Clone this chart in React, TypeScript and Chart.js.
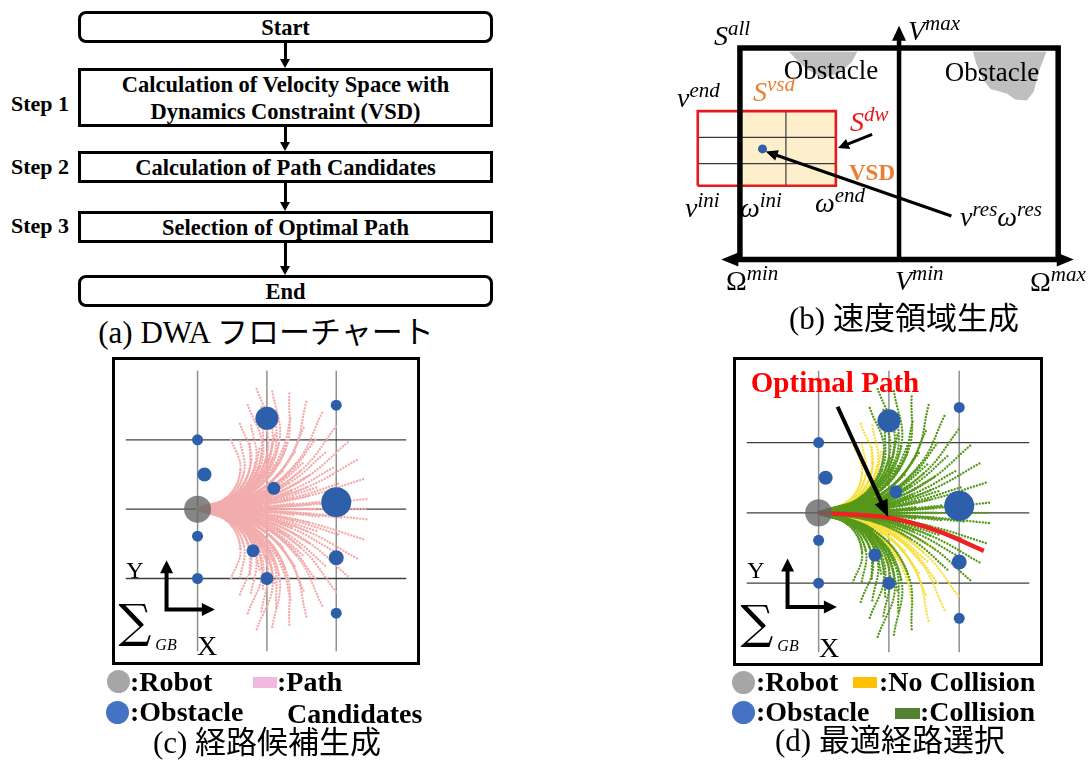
import React, { useEffect, useRef } from 'react';
import { Chart, registerables } from 'chart.js';
Chart.register(...registerables);

// ================= DATA =================
// (b) velocity space (x: omega, y: v; S_all spans omega -1..1, v 0..1)
const omegaAxis = [[-1.117, 0], [1.098, 0]];
const vAxis = [[0, 0], [0, 1.105]];
const sAllFrame = [[-1, 0], [-1, 1], [1, 1], [1, 0]];
const vsdArea = [[-1, 0.349], [-1, 0.702], [-0.397, 0.702], [-0.397, 0.349], [-1, 0.349]];
const dwBox = [[-1.265, 0.349], [-1.265, 0.702], [-0.397, 0.702], [-0.397, 0.349], [-1.265, 0.349]];
const dwGridV = [0.578, 0.454];
const dwGridW = [-0.711];
const resultPoint = [-0.858, 0.523];
const resultArrow = [[0.329, 0.206], [-0.838, 0.511]];
const dwArrow = [[-0.169, 0.592], [-0.384, 0.527]];
const obstacleShapeA = [[-0.692, 0.982], [-0.262, 0.982], [-0.3, 0.93], [-0.38, 0.88], [-0.48, 0.86], [-0.58, 0.9], [-0.65, 0.95], [-0.692, 0.982]];
const obstacleShapeB = [[0.465, 0.982], [0.926, 0.982], [0.883, 0.899], [0.846, 0.794], [0.803, 0.752], [0.729, 0.757], [0.68, 0.784], [0.575, 0.807], [0.526, 0.853], [0.483, 0.931], [0.465, 0.982]];

// (c)/(d) global frame (grid unit = 1)
const gridX = [0, 1, 2];
const gridY = [1, 0, -1];
const robotPos = [0, 0];
const obstacleX = [0, 0.1, 0, 0, 1, 1.1, 0.8, 1, 2, 2, 2, 2];
const obstacleY = [1, 0.5, -0.39, -1, 1.31, 0.3, -0.6, -1, 1.5, 0.1, -0.7, -1.5];
const obstacleR = [5.5, 7, 5.5, 5.5, 11.5, 6.5, 6.5, 6.5, 5.5, 15, 7.5, 5.5];

// path candidates: three points after the robot position [x1,y1,x2,y2,x3,y3]
const upperPaths = [
  [0.466, 0.010, 0.932, 0.038, 1.397, 0.084], [0.583, 0.012, 1.166, 0.047, 1.747, 0.105], [0.699, 0.015, 1.399, 0.057, 2.096, 0.126], [0.816, 0.017, 1.632, 0.066, 2.445, 0.147],
  [0.466, 0.028, 0.924, 0.112, 1.371, 0.249], [0.583, 0.035, 1.155, 0.140, 1.713, 0.312], [0.699, 0.042, 1.386, 0.168, 2.056, 0.374], [0.816, 0.049, 1.617, 0.196, 2.399, 0.436],
  [0.463, 0.046, 0.909, 0.185, 1.317, 0.407], [0.579, 0.058, 1.136, 0.231, 1.647, 0.509], [0.695, 0.069, 1.363, 0.277, 1.976, 0.611], [0.811, 0.081, 1.590, 0.323, 2.305, 0.713],
  [0.461, 0.064, 0.885, 0.255, 1.240, 0.554], [0.576, 0.081, 1.106, 0.319, 1.551, 0.693], [0.691, 0.097, 1.327, 0.382, 1.861, 0.832], [0.806, 0.113, 1.548, 0.446, 2.171, 0.970],
  [0.456, 0.083, 0.855, 0.322, 1.144, 0.686], [0.571, 0.103, 1.069, 0.403, 1.430, 0.858], [0.685, 0.124, 1.283, 0.483, 1.716, 1.029], [0.799, 0.145, 1.497, 0.564, 2.002, 1.201],
  [0.452, 0.101, 0.818, 0.385, 1.028, 0.798], [0.565, 0.126, 1.022, 0.481, 1.284, 0.997], [0.678, 0.151, 1.226, 0.577, 1.541, 1.196], [0.791, 0.177, 1.431, 0.674, 1.798, 1.396],
  [0.447, 0.119, 0.774, 0.442, 0.897, 0.888], [0.558, 0.149, 0.967, 0.553, 1.122, 1.110], [0.670, 0.179, 1.161, 0.664, 1.346, 1.332], [0.781, 0.208, 1.355, 0.774, 1.570, 1.553],
  [0.440, 0.136, 0.725, 0.496, 0.757, 0.955], [0.550, 0.170, 0.906, 0.620, 0.947, 1.193], [0.659, 0.204, 1.087, 0.744, 1.136, 1.432], [0.769, 0.238, 1.269, 0.868, 1.325, 1.670],
  [0.431, 0.153, 0.671, 0.543, 0.612, 0.997], [0.539, 0.191, 0.838, 0.679, 0.765, 1.246], [0.647, 0.229, 1.006, 0.815, 0.918, 1.495], [0.755, 0.267, 1.174, 0.951, 1.071, 1.744],
  [0.424, 0.168, 0.619, 0.580, 0.479, 1.014], [0.530, 0.210, 0.774, 0.725, 0.599, 1.267], [0.636, 0.252, 0.928, 0.869, 0.718, 1.520], [0.742, 0.294, 1.083, 1.014, 0.838, 1.774],
];
const lowerPaths = [
  [0.466, -0.010, 0.932, -0.038, 1.397, -0.084], [0.583, -0.012, 1.166, -0.047, 1.747, -0.105], [0.699, -0.015, 1.399, -0.057, 2.096, -0.126], [0.816, -0.017, 1.632, -0.066, 2.445, -0.147],
  [0.466, -0.028, 0.924, -0.112, 1.371, -0.249], [0.583, -0.035, 1.155, -0.140, 1.713, -0.312], [0.699, -0.042, 1.386, -0.168, 2.056, -0.374], [0.816, -0.049, 1.617, -0.196, 2.399, -0.436],
  [0.463, -0.046, 0.909, -0.185, 1.317, -0.407], [0.579, -0.058, 1.136, -0.231, 1.647, -0.509], [0.695, -0.069, 1.363, -0.277, 1.976, -0.611], [0.811, -0.081, 1.590, -0.323, 2.305, -0.713],
  [0.461, -0.064, 0.885, -0.255, 1.240, -0.554], [0.576, -0.081, 1.106, -0.319, 1.551, -0.693], [0.691, -0.097, 1.327, -0.382, 1.861, -0.832], [0.806, -0.113, 1.548, -0.446, 2.171, -0.970],
  [0.456, -0.083, 0.855, -0.322, 1.144, -0.686], [0.571, -0.103, 1.069, -0.403, 1.430, -0.858], [0.685, -0.124, 1.283, -0.483, 1.716, -1.029], [0.799, -0.145, 1.497, -0.564, 2.002, -1.201],
  [0.452, -0.101, 0.818, -0.385, 1.028, -0.798], [0.565, -0.126, 1.022, -0.481, 1.284, -0.997], [0.678, -0.151, 1.226, -0.577, 1.541, -1.196], [0.791, -0.177, 1.431, -0.674, 1.798, -1.396],
  [0.447, -0.119, 0.774, -0.442, 0.897, -0.888], [0.558, -0.149, 0.967, -0.553, 1.122, -1.110], [0.670, -0.179, 1.161, -0.664, 1.346, -1.332], [0.781, -0.208, 1.355, -0.774, 1.570, -1.553],
  [0.440, -0.136, 0.725, -0.496, 0.757, -0.955], [0.550, -0.170, 0.906, -0.620, 0.947, -1.193], [0.659, -0.204, 1.087, -0.744, 1.136, -1.432], [0.769, -0.238, 1.269, -0.868, 1.325, -1.670],
  [0.431, -0.153, 0.671, -0.543, 0.612, -0.997], [0.539, -0.191, 0.838, -0.679, 0.765, -1.246], [0.647, -0.229, 1.006, -0.815, 0.918, -1.495], [0.755, -0.267, 1.174, -0.951, 1.071, -1.744],
  [0.424, -0.168, 0.619, -0.580, 0.479, -1.014], [0.530, -0.210, 0.774, -0.725, 0.599, -1.267], [0.636, -0.252, 0.928, -0.869, 0.718, -1.520], [0.742, -0.294, 1.083, -1.014, 0.838, -1.774],
];
const straightPath = [1.0, 0, 1.7, 0, 2.45, 0];
// (d) 1 = no collision, 0 = collision
const upperNoCollision = [0, 0, 0, 0, 0, 0, 0, 0, 0, 0, 0, 0, 0, 0, 0, 0, 0, 0, 0, 0, 0, 0, 0, 0, 1, 0, 0, 0, 1, 0, 0, 0, 1, 1, 0, 0, 1, 1, 0, 0];
const lowerNoCollision = [0, 0, 0, 0, 0, 0, 0, 0, 1, 1, 0, 0, 1, 1, 0, 0, 1, 1, 1, 1, 1, 1, 1, 1, 0, 0, 1, 1, 0, 0, 0, 0, 0, 0, 0, 0, 0, 0, 0, 0];
const optimalPathX = [0, 1.0, 1.7, 2.35];
const optimalPathY = [0, -0.07, -0.26, -0.54];
const optimalArrow = [[0.27, 1.51], [0.99, -0.06]];
const axisIconC = [[-0.447, -0.737], [-0.447, -1.447], [0.25, -1.447]];
const axisIconD = [[-0.442, -0.649], [-0.442, -1.338], [0.26, -1.338]];

// axis ranges of each panel
const panelBX = [-1.474, 1.178], panelBY = [-0.17, 1.206];
const panelCX = [-1.039, 3.013], panelCY = [-2.053, 2.0];
const panelDX = [-1.026, 3.0], panelDY = [-1.987, 2.026];

// ================= HELPERS =================
const SERIF = "'Liberation Serif', 'Times New Roman', 'Noto Sans CJK JP', serif";
const pts = (a: number[][]) => a.map(([x, y]) => ({ x, y }));

const arrowPlugin = {
  id: 'arrowHeads',
  afterDatasetsDraw(chart: any) {
    const { ctx, scales } = chart;
    chart.data.datasets.forEach((ds: any) => {
      const a = ds.arrow;
      if (!a) return;
      const p = ds.data.map((d: any) => ({ x: scales.x.getPixelForValue(d.x), y: scales.y.getPixelForValue(d.y) }));
      const n = p.length;
      const back = (tip: any, from: any) => {
        const dx = tip.x - from.x, dy = tip.y - from.y, d = Math.hypot(dx, dy);
        return { x: tip.x - (dx / d) * a.head * 0.7, y: tip.y - (dy / d) * a.head * 0.7 };
      };
      const line = p.slice();
      if (a.end) line[n - 1] = back(p[n - 1], p[n - 2]);
      if (a.start) line[0] = back(p[0], p[1]);
      ctx.save();
      ctx.strokeStyle = a.color;
      ctx.fillStyle = a.color;
      ctx.lineWidth = a.width;
      ctx.lineJoin = 'miter';
      ctx.lineCap = 'butt';
      ctx.beginPath();
      line.forEach((q: any, i: number) => (i ? ctx.lineTo(q.x, q.y) : ctx.moveTo(q.x, q.y)));
      ctx.stroke();
      const head = (tip: any, from: any) => {
        const ang = Math.atan2(tip.y - from.y, tip.x - from.x);
        const L = a.head, W = a.headWidth / 2;
        ctx.beginPath();
        ctx.moveTo(tip.x, tip.y);
        ctx.lineTo(tip.x - L * Math.cos(ang) - W * Math.sin(ang), tip.y - L * Math.sin(ang) + W * Math.cos(ang));
        ctx.lineTo(tip.x - L * Math.cos(ang) + W * Math.sin(ang), tip.y - L * Math.sin(ang) - W * Math.cos(ang));
        ctx.closePath();
        ctx.fill();
      };
      if (a.end) head(p[n - 1], p[n - 2]);
      if (a.start) head(p[0], p[1]);
      ctx.restore();
    });
  },
};

const lineDs = (data: number[][], color: string, width: number, extra: any = {}) => ({
  data: pts(data), showLine: true, borderColor: color, borderWidth: width, pointRadius: 0, fill: false, tension: 0, ...extra,
});
const arrowDs = (data: number[][], arrow: any) => ({ data: pts(data), showLine: false, pointRadius: 0, arrow });

const makeConfig = (datasets: any[], xr: number[], yr: number[]) => ({
  type: 'line',
  data: { datasets: datasets.map((d, i) => ({ ...d, order: -i })) },
  options: {
    responsive: false, animation: false, devicePixelRatio: 1, events: [],
    layout: { padding: 0 },
    plugins: { legend: { display: false }, tooltip: { enabled: false }, title: { display: false } },
    scales: {
      x: { type: 'linear', min: xr[0], max: xr[1], display: false },
      y: { type: 'linear', min: yr[0], max: yr[1], display: false },
    },
  },
  plugins: [arrowPlugin],
});

function buildB() {
  const ds: any[] = [];
  ds.push(lineDs(vsdArea, 'rgba(0,0,0,0)', 0, { fill: 'shape', backgroundColor: '#fdefcc' }));
  ds.push(lineDs(obstacleShapeA, 'rgba(0,0,0,0)', 0, { fill: 'shape', backgroundColor: '#bfbfbf' }));
  ds.push(lineDs(obstacleShapeB, 'rgba(0,0,0,0)', 0, { fill: 'shape', backgroundColor: '#bfbfbf' }));
  dwGridV.forEach((v) => ds.push(lineDs([[dwBox[0][0], v], [dwBox[2][0], v]], '#3a3a3a', 1.2)));
  dwGridW.forEach((w) => ds.push(lineDs([[w, dwBox[0][1]], [w, dwBox[1][1]]], '#3a3a3a', 1.2)));
  ds.push(lineDs(dwBox, '#e8191b', 2.6, { borderJoinStyle: 'miter' }));
  ds.push(lineDs(sAllFrame, '#000', 5.5, { borderJoinStyle: 'miter' }));
  ds.push({ data: [{ x: resultPoint[0], y: resultPoint[1] }], showLine: false, pointRadius: 4.5, pointBackgroundColor: '#2f5fa8', pointBorderWidth: 0 });
  ds.push(arrowDs(vAxis, { color: '#000', width: 4.5, head: 15, headWidth: 14, end: true }));
  ds.push(arrowDs(omegaAxis, { color: '#000', width: 5.5, head: 17, headWidth: 14, start: true, end: true }));
  ds.push(arrowDs(resultArrow, { color: '#000', width: 3, head: 12, headWidth: 11, end: true }));
  ds.push(arrowDs(dwArrow, { color: '#000', width: 3, head: 11, headWidth: 11, end: true }));
  return makeConfig(ds, panelBX, panelBY);
}

// dotted path candidates: solid near the robot, dotted further out
const pathDs = (p: number[], color: string) => ({
  data: [{ x: robotPos[0], y: robotPos[1] }, { x: p[0], y: p[1] }, { x: p[2], y: p[3] }, { x: p[4], y: p[5] }],
  showLine: true, borderColor: color, borderWidth: 2.6, borderCapStyle: 'round',
  segment: {
    borderDash: (c: any) => (c.p0DataIndex === 0 ? [] : c.p0DataIndex === 1 ? [0.01, 2.6] : [0.01, 3.1]),
    borderWidth: (c: any) => (c.p0DataIndex === 0 ? 2.8 : c.p0DataIndex === 1 ? 2.6 : 2.4),
  },
  tension: 0.4, pointRadius: 0, fill: false,
});

function buildFan(panel: 'c' | 'd') {
  const xr = panel === 'c' ? panelCX : panelDX;
  const yr = panel === 'c' ? panelCY : panelDY;
  const ds: any[] = [];
  gridX.forEach((g) => ds.push(lineDs([[g, yr[0]], [g, yr[1]]], '#8f8f8f', 1.5)));
  gridY.forEach((g) => ds.push(lineDs([[xr[0], g], [xr[1], g]], '#3f3f3f', 1.3)));
  if (panel === 'c') {
    const pink = '#f3acac';
    upperPaths.forEach((p) => ds.push(pathDs(p, pink)));
    lowerPaths.forEach((p) => ds.push(pathDs(p, pink)));
    ds.push(pathDs(straightPath, pink));
  } else {
    const yellow = '#f7e03c';
    const green = '#55981a';
    upperPaths.forEach((p, i) => { if (upperNoCollision[i]) ds.push(pathDs(p, yellow)); });
    lowerPaths.forEach((p, i) => { if (lowerNoCollision[i]) ds.push(pathDs(p, yellow)); });
    upperPaths.forEach((p, i) => { if (!upperNoCollision[i]) ds.push(pathDs(p, green)); });
    lowerPaths.forEach((p, i) => { if (!lowerNoCollision[i]) ds.push(pathDs(p, green)); });
    ds.push(pathDs(straightPath, green));
    ds.push({
      data: optimalPathX.map((x, i) => ({ x, y: optimalPathY[i] })), showLine: true, borderColor: '#ee2222',
      borderWidth: 4.5, tension: 0.3, pointRadius: 0, fill: false, borderCapStyle: 'butt',
    });
  }
  ds.push({
    data: obstacleX.map((x, i) => ({ x, y: obstacleY[i] })), showLine: false,
    pointRadius: obstacleR, pointBackgroundColor: '#2e5fab', pointBorderWidth: 0,
  });
  ds.push({ data: [{ x: robotPos[0], y: robotPos[1] }], showLine: false, pointRadius: 13.5, pointBackgroundColor: 'rgba(100,100,100,0.78)', pointBorderWidth: 0 });
  ds.push(arrowDs(panel === 'c' ? axisIconC : axisIconD, { color: '#000', width: 4, head: 13, headWidth: 13, start: true, end: true }));
  if (panel === 'd') ds.push(arrowDs(optimalArrow, { color: '#000', width: 4, head: 17, headWidth: 14, end: true }));
  return makeConfig(ds, xr, yr);
}

function ChartBox({ left, top, width, height, build }: any) {
  const ref = useRef<HTMLCanvasElement>(null);
  useEffect(() => {
    const chart = new Chart(ref.current as HTMLCanvasElement, build() as any);
    return () => chart.destroy();
  }, []);
  return <canvas ref={ref} width={width} height={height} style={{ position: 'absolute', left, top, width, height }} />;
}

function Txt({ x, y, children, size = 22, bold = false, color = '#000', align = 'center', italic = false, family = SERIF, weight }: any) {
  const tx = align === 'center' ? '-50%' : align === 'right' ? '-100%' : '0';
  return (
    <div style={{
      position: 'absolute', left: x, top: y, transform: `translate(${tx},-50%)`, fontSize: size,
      fontWeight: weight ?? (bold ? 700 : 400), color, fontStyle: italic ? 'italic' : 'normal', lineHeight: 1,
      whiteSpace: 'nowrap', fontFamily: family,
    }}>{children}</div>
  );
}

function Mth({ x, base, parts, color = '#000', size = 28, sup = 21 }: any) {
  return (
    <div style={{ position: 'absolute', left: x, top: base - 0.8375 * size, fontSize: size, lineHeight: 1, whiteSpace: 'nowrap', fontFamily: SERIF, color }}>
      {parts.map(([t, s]: any, i: number) => s
        ? <span key={i} style={{ fontSize: sup, fontStyle: 'italic', position: 'relative', top: -0.45 * sup }}>{t}</span>
        : <span key={i} style={{ fontStyle: t === 'Ω' ? 'normal' : 'italic' }}>{t}</span>)}
    </div>
  );
}

function FlowBox({ top, h, lines, round }: any) {
  return (
    <div style={{
      position: 'absolute', left: 78, top, width: 415, height: h, boxSizing: 'border-box', border: '3px solid #000',
      borderRadius: round ? 8 : 0, display: 'flex', flexDirection: 'column', alignItems: 'center', justifyContent: 'center',
      fontFamily: SERIF, fontWeight: 700, fontSize: 22.5, lineHeight: '27px', background: '#fff',
    }}>
      {lines.map((l: string, i: number) => <div key={i}>{l}</div>)}
    </div>
  );
}

function FlowArrow({ y1, y2 }: any) {
  return (
    <>
      <div style={{ position: 'absolute', left: 284, top: y1, width: 2.5, height: y2 - y1 - 8, background: '#000' }} />
      <div style={{ position: 'absolute', left: 280, top: y2 - 9, width: 0, height: 0, borderLeft: '5.5px solid transparent', borderRight: '5.5px solid transparent', borderTop: '9px solid #000' }} />
    </>
  );
}

const Dot = ({ x, y, r, c }: any) => (
  <div style={{ position: 'absolute', left: x - r, top: y - r, width: 2 * r, height: 2 * r, borderRadius: '50%', background: c }} />
);
const Rect = ({ x, y, w, h, c }: any) => <div style={{ position: 'absolute', left: x, top: y, width: w, height: h, background: c }} />;

export default function App() {
  return (
    <div style={{ position: 'absolute', left: 0, top: 0, width: 1091, height: 760, background: '#fff', overflow: 'hidden', fontFamily: SERIF }}>
      {/* (a) flowchart */}
      <FlowBox top={11} h={32} lines={['Start']} round />
      <FlowBox top={68} h={59} lines={['Calculation of Velocity Space with', 'Dynamics Constraint (VSD)']} />
      <FlowBox top={151} h={32} lines={['Calculation of Path Candidates']} />
      <FlowBox top={211} h={32} lines={['Selection of Optimal Path']} />
      <FlowBox top={275} h={32} lines={['End']} round />
      <FlowArrow y1={43} y2={68} />
      <FlowArrow y1={127} y2={151} />
      <FlowArrow y1={183} y2={211} />
      <FlowArrow y1={243} y2={275} />
      <Txt x={11} y={104} size={22} bold align="left">Step 1</Txt>
      <Txt x={11} y={167} size={22} bold align="left">Step 2</Txt>
      <Txt x={11} y={226} size={22} bold align="left">Step 3</Txt>
      <Txt x={266} y={332} size={31}>(a) DWA フローチャート</Txt>

      {/* (b) velocity space */}
      <ChartBox left={660} top={0} width={431} height={300} build={buildB} />
      <Txt x={831} y={70} size={27}>Obstacle</Txt>
      <Txt x={992} y={72} size={27}>Obstacle</Txt>
      <Mth x={714} base={45} parts={[['S', 0], ['all', 1]]} />
      <Mth x={908} base={40} parts={[['V', 0], ['max', 1]]} />
      <Mth x={677} base={107} parts={[['v', 0], ['end', 1]]} />
      <Mth x={753} base={101} parts={[['S', 0], ['vsd', 1]]} color="#ed7d31" />
      <Mth x={850} base={131} parts={[['S', 0], ['dw', 1]]} color="#e8191b" />
      <Txt x={872} y={172} size={23} bold color="#ed7d31">VSD</Txt>
      <Mth x={685} base={217} parts={[['v', 0], ['ini', 1]]} />
      <Mth x={740} base={217} parts={[['ω', 0], ['ini', 1]]} />
      <Mth x={815} base={212} parts={[['ω', 0], ['end', 1]]} />
      <Mth x={960} base={226} parts={[['v', 0], ['res', 1], ['ω', 0], ['res', 1]]} />
      <Mth x={726} base={290} parts={[['Ω', 0], ['min', 1]]} />
      <Mth x={895} base={290} parts={[['V', 0], ['min', 1]]} />
      <Mth x={1030} base={291} parts={[['Ω', 0], ['max', 1]]} />
      <Txt x={904} y={318} size={31}>(b) 速度領域生成</Txt>

      {/* (c) path candidates */}
      <ChartBox left={112} top={357} width={308} height={308} build={() => buildFan('c')} />
      <div style={{ position: 'absolute', left: 112, top: 357, width: 308, height: 308, boxSizing: 'border-box', border: '3px solid #000' }} />
      <Txt x={135} y={570} size={24}>Y</Txt>
      <Txt x={207} y={646} size={28}>X</Txt>
      <Txt x={135} y={621} size={46} family="'DejaVu Serif', serif">∑</Txt>
      <Txt x={166} y={645} size={16} italic>GB</Txt>
      <Dot x={118} y={681} r={11.5} c="#a6a6a6" />
      <Txt x={130} y={682} size={28} bold align="left">:Robot</Txt>
      <Rect x={253} y={677} w={24} h={11} c="#f2b9e0" />
      <Txt x={277} y={682} size={28} bold align="left">:Path</Txt>
      <Dot x={117} y={712} r={11.5} c="#4472c4" />
      <Txt x={130} y={712} size={28} bold align="left">:Obstacle</Txt>
      <Txt x={287} y={714} size={28} bold align="left">Candidates</Txt>
      <Txt x={267} y={742} size={31}>(c) 経路候補生成</Txt>

      {/* (d) optimal path */}
      <ChartBox left={733} top={357} width={310} height={309} build={() => buildFan('d')} />
      <div style={{ position: 'absolute', left: 733, top: 357, width: 310, height: 309, boxSizing: 'border-box', border: '3px solid #000' }} />
      <Txt x={835} y={382} size={29} bold color="#ff0000">Optimal Path</Txt>
      <Txt x={756} y={570} size={24}>Y</Txt>
      <Txt x={829} y={648} size={28}>X</Txt>
      <Txt x={757} y={622} size={46} family="'DejaVu Serif', serif">∑</Txt>
      <Txt x={788} y={646} size={16} italic>GB</Txt>
      <Dot x={743} y={682} r={11.5} c="#a6a6a6" />
      <Txt x={756} y={682} size={28} bold align="left">:Robot</Txt>
      <Rect x={853} y={677} w={24} h={11} c="#ffc000" />
      <Txt x={879} y={682} size={28} bold align="left">:No Collision</Txt>
      <Dot x={743} y={712} r={11.5} c="#4472c4" />
      <Txt x={756} y={712} size={28} bold align="left">:Obstacle</Txt>
      <Rect x={895} y={708} w={25} h={11} c="#548235" />
      <Txt x={920} y={712} size={28} bold align="left">:Collision</Txt>
      <Txt x={890} y={740} size={31}>(d) 最適経路選択</Txt>
    </div>
  );
}
